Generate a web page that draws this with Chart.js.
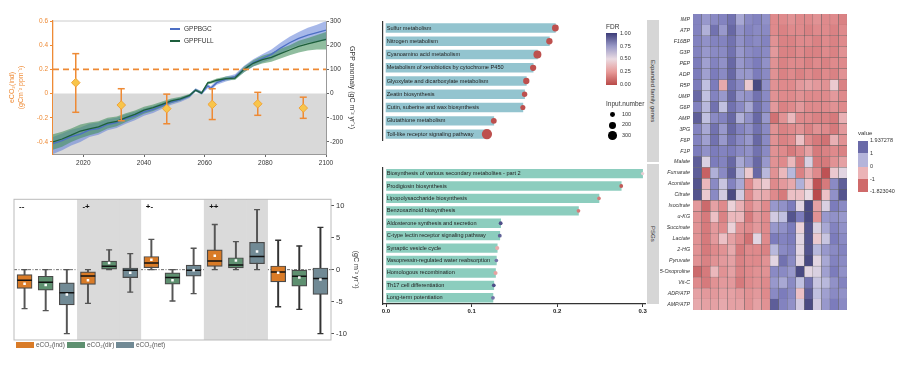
<!DOCTYPE html>
<html>
<head>
<meta charset="utf-8">
<script src="https://cdn.jsdelivr.net/npm/chart.js@4.4.1/dist/chart.umd.min.js"></script>
<style>
  body { margin:0; width:900px; height:383px; background:#fff; position:relative; overflow:hidden;
         font-family:"Liberation Sans", Arial, sans-serif; }
  canvas { position:absolute; }
  .lbl { position:absolute; white-space:nowrap; line-height:1; color:#333; transform:translateY(-50%); }
  .sw { position:absolute; }
  .strip { position:absolute; background:#d6d6d6; display:flex; align-items:center; justify-content:center; }
  .strip span { writing-mode:vertical-rl; font-size:6px; color:#333; white-space:nowrap; }
</style>
</head>
<body>
<canvas id="gppChart" width="370" height="190" style="left:0;top:0"></canvas>
<canvas id="boxChart" width="370" height="193" style="left:0;top:190px"></canvas>
<canvas id="enrichTop" width="285" height="150" style="left:370px;top:14px"></canvas>
<canvas id="enrichBottom" width="285" height="165" style="left:370px;top:160px"></canvas>
<canvas id="heatChart" width="220" height="330" style="left:640px;top:0"></canvas>

<!-- GPP legend -->
<div class="sw" style="left:170px;top:28.3px;width:10px;height:2px;background:#4d6fc4"></div>
<div class="lbl" style="left:184px;top:29.3px;font-size:6.5px">GPPBGC</div>
<div class="sw" style="left:170px;top:40.3px;width:10px;height:2px;background:#1d5e3c"></div>
<div class="lbl" style="left:184px;top:41.3px;font-size:6.5px">GPPFULL</div>

<!-- box legend -->
<div class="sw" style="left:16px;top:341.7px;width:18px;height:6.6px;background:#d97b27"></div>
<div class="lbl" style="left:36px;top:345px;font-size:6.5px;color:#555">eCO₂(ind)</div>
<div class="sw" style="left:67px;top:341.7px;width:18px;height:6.6px;background:#5e9070"></div>
<div class="lbl" style="left:87px;top:345px;font-size:6.5px;color:#555">eCO₂(dir)</div>
<div class="sw" style="left:116px;top:341.7px;width:18px;height:6.6px;background:#718a95"></div>
<div class="lbl" style="left:136px;top:345px;font-size:6.5px;color:#555">eCO₂(net)</div>

<!-- facet strips -->
<div class="strip" style="left:646.7px;top:20px;width:12.3px;height:141.7px"><span>Expanded family genes</span></div>
<div class="strip" style="left:646.7px;top:163.5px;width:12.3px;height:140.5px"><span>PSGs</span></div>

<!-- FDR legend -->
<div class="lbl" style="left:606px;top:27px;font-size:6.5px">FDR</div>
<div id="fdrBar" class="sw" style="left:606px;top:33.3px;width:11px;height:51.7px"></div>
<div class="lbl" style="left:620px;top:34px;font-size:5.5px">1.00</div>
<div class="lbl" style="left:620px;top:46.6px;font-size:5.5px">0.75</div>
<div class="lbl" style="left:620px;top:59.3px;font-size:5.5px">0.50</div>
<div class="lbl" style="left:620px;top:72px;font-size:5.5px">0.25</div>
<div class="lbl" style="left:620px;top:84.5px;font-size:5.5px">0.00</div>
<div class="lbl" style="left:606px;top:104px;font-size:6.5px">Input.number</div>
<div id="sizeLegend"></div>

<!-- heatmap legend -->
<div class="lbl" style="left:858px;top:133px;font-size:6px">value</div>
<div class="sw" style="left:858px;top:140.7px;width:10px;height:12.3px;background:#6a6aa8"></div>
<div class="sw" style="left:858px;top:153px;width:10px;height:13.5px;background:#b4b4da"></div>
<div class="sw" style="left:858px;top:166.5px;width:10px;height:12.8px;background:#ebb3b6"></div>
<div class="sw" style="left:858px;top:179.3px;width:10px;height:12.7px;background:#cf6a6a"></div>
<div class="lbl" style="left:870px;top:141px;font-size:5.5px">1.937278</div>
<div class="lbl" style="left:870px;top:153.5px;font-size:5.5px">1</div>
<div class="lbl" style="left:870px;top:167px;font-size:5.5px">0</div>
<div class="lbl" style="left:870px;top:180px;font-size:5.5px">-1</div>
<div class="lbl" style="left:870px;top:192px;font-size:5.5px">-1.823040</div>

<script>
// ---------- data: GPP anomaly panel ----------
var years = [2010,2013,2016,2019,2022,2025,2028,2031,2034,2037,2040,2043,2046,2049,2052,2055,2057,2059,2061,2062,2064,2067,2070,2073,2076,2079,2082,2085,2088,2091,2094,2097,2100];
var gppBGC = [-207,-195,-178,-168,-150,-145,-128,-120,-104,-92,-76,-65,-50,-35,-25,-10,15,2,32,22,45,60,70,100,128,145,162,188,210,228,242,252,262];
var gppBGCLow = [-250,-235,-215,-200,-180,-170,-152,-142,-125,-110,-92,-80,-63,-46,-35,-18,8,-5,22,14,36,50,60,88,112,128,142,165,185,200,210,215,218];
var gppBGCHigh = [-180,-165,-150,-140,-125,-120,-106,-100,-86,-75,-62,-52,-38,-25,-16,-3,22,9,40,30,55,70,80,115,142,162,182,210,235,255,272,285,300];
var gppFULL = [-200,-188,-172,-155,-146,-138,-122,-115,-100,-86,-69,-58,-45,-30,-22,-8,14,2,44,46,55,62,64,100,125,140,150,165,180,195,205,215,224];
var gppFULLLow = [-232,-220,-200,-185,-172,-162,-145,-135,-118,-102,-84,-72,-57,-40,-30,-14,9,-3,38,40,48,55,56,88,112,124,132,145,158,170,178,182,182];
var gppFULLHigh = [-168,-158,-145,-128,-120,-115,-100,-95,-82,-70,-55,-45,-33,-20,-13,-2,20,8,50,53,62,70,72,112,138,156,168,185,200,218,230,242,255];
var indYears = [2017.5,2032.5,2047.5,2062.5,2077.5,2092.5];
var indMean = [0.09,-0.095,-0.125,-0.09,-0.085,-0.12];
var indLow = [-0.155,-0.225,-0.25,-0.215,-0.18,-0.205];
var indHigh = [0.33,0.04,-0.005,0.04,0.01,-0.03];
var indThreshold = 0.2;
var leftTicks = [-0.4,-0.2,0,0.2,0.4,0.6];
var rightTicks = [-200,-100,0,100,200,300];
var yearTicks = [2020,2040,2060,2080,2100];

// ---------- data: box plot panel ----------
var boxGroups = ['--','-+','+-','++',''];
var shadedGroups = ['-+','++'];
var boxVars = ['ind','dir','net'];
var boxLow = [-6.1,-6.4,-10, -5.26,0,-3.5, 0,-4.9,-3.76, 0,0,0, -5.8,-6.2,-10];
var boxQ1 = [-2.94,-3.2,-5.5, -2.3,0,-1.24, 0.3,-2.27,-1.03, 0.52,0.26,0.93, -1.9,-2.58,-3.87];
var boxMedian = [-1.65,-1.96,-3.6, -1.0,0.52,-0.1, 1.03,-1.24,-0.1, 1.34,0.72,2.06, -0.36,-1.03,-1.4];
var boxQ3 = [-0.77,-1.03,-2.06, -0.36,1.34,0.26, 2.06,-0.5,0.72, 3.1,1.86,4.28, 0.57,0,0.26];
var boxHigh = [0,0,0, 0,3.1,2.5, 4.74,0,3.35, 7.06,4.38,9.4, 4.6,3.7,6.6];
var boxMean = [-2.2,-2.4,-3.9, -1.65,1.03,-0.5, 1.55,-1.65,-0.1, 2.16,1.44,2.84, -0.5,-1.24,-1.55];
var boxTicks = [-10,-5,0,5,10];

// ---------- data: enrichment panel ----------
var pathwaysA = ['Sulfur metabolism','Nitrogen metabolism','Cyanoamino acid metabolism','Metabolism of xenobiotics by cytochrome P450','Glyoxylate and dicarboxylate metabolism','Zeatin biosynthesis','Cutin, suberine and wax biosynthesis','Glutathione metabolism','Toll-like receptor signaling pathway'];
var ratioA = [0.198,0.191,0.177,0.172,0.164,0.162,0.160,0.126,0.118];
var fdrA = [0.02,0.02,0.02,0.02,0.02,0.02,0.02,0.02,0.02];
var countA = [200,175,260,170,175,125,110,150,380];
var pathwaysB = ['Biosynthesis of various secondary metabolites - part 2','Prodigiosin biosynthesis','Lipopolysaccharide biosynthesis','Benzoxazinoid biosynthesis','Aldosterone synthesis and secretion','C-type lectin receptor signaling pathway','Synaptic vesicle cycle','Vasopressin-regulated water reabsorption','Homologous recombination','Th17 cell differentiation','Long-term potentiation'];
var ratioB = [0.300,0.275,0.249,0.225,0.134,0.133,0.130,0.129,0.128,0.126,0.125];
var fdrB = [0.45,0.05,0.15,0.15,0.95,0.9,0.32,0.85,0.28,0.95,0.85];
var countB = [15,45,35,40,45,45,60,35,60,40,40];
var ratioTicks = [0,0.1,0.2,0.3];
var sizeBreaks = [100,200,300];

// ---------- data: heatmap ----------
var metabolites = ['IMP','ATP','F16BP','G3P','PEP','ADP','R5P','UMP','G6P','AMP','3PG','F6P','F1P','Malate','Fumarate','Aconitate','Citrate','Isocitrate','α-KG','Succinate','Lactate','2-HG','Pyruvate','5-Oxoproline','Vit-C','ADP/ATP','AMP/ATP'];
var heatValues = [
  [1.3,1.0,1.2,1.3,1.5,0.8,1.2,1.3,1.1,-1.0,-1.0,-0.9,-1.0,-1.0,-0.9,-1.0,-1.0,-1.1],
  [1.3,0.7,1.5,1.0,1.6,1.1,1.3,1.2,1.2,-1.0,-1.1,-1.0,-1.0,-1.1,-1.0,-1.0,-1.1,-1.0],
  [1.3,1.1,1.3,1.3,1.5,1.1,1.3,1.2,1.3,-0.9,-1.1,-1.1,-1.0,-1.0,-1.1,-1.0,-1.1,-1.0],
  [1.3,1.0,1.2,1.2,1.5,1.0,1.2,1.3,1.2,-0.8,-1.1,-1.1,-1.0,-1.1,-1.1,-1.0,-1.1,-0.9],
  [1.4,0.9,1.3,1.1,1.6,1.0,1.2,1.4,1.1,-0.9,-1.1,-1.0,-1.0,-1.1,-1.0,-1.1,-1.0,-1.0],
  [1.4,0.9,1.4,1.2,1.6,1.0,1.0,1.4,1.2,-0.9,-1.1,-1.0,-1.1,-1.0,-1.1,-1.0,-1.1,-0.9],
  [1.4,0.5,1.4,-0.6,1.5,1.2,-0.2,1.9,1.1,-0.9,-1.0,-1.0,-0.8,-0.7,-0.8,-0.9,-0.2,-1.1],
  [1.6,0.5,1.3,1.0,1.6,1.0,1.1,1.5,1.2,-0.9,-1.0,-1.0,-0.9,-1.0,-1.0,-1.0,-0.8,-1.0],
  [1.3,0.6,1.5,0.5,1.5,1.2,0.8,1.5,1.2,-0.8,-1.1,-1.0,-0.8,-1.0,-1.0,-1.0,-0.9,-1.0],
  [1.7,0.5,1.2,1.3,1.6,0.7,1.1,1.6,1.0,-1.3,-0.9,-0.4,-1.0,-1.0,-1.1,-1.1,-1.2,-0.5],
  [1.3,0.8,1.5,1.0,1.6,1.3,1.1,1.5,1.2,-0.9,-1.1,-1.0,-0.9,-1.1,-0.9,-1.0,-1.2,-0.8],
  [1.3,0.9,1.5,1.0,1.5,1.2,1.0,1.6,1.2,-0.9,-1.1,-1.0,-0.3,-1.0,-1.2,-1.3,-0.5,-0.9],
  [1.4,1.1,1.4,1.3,1.4,1.2,1.1,1.5,1.2,-0.9,-1.0,-1.2,-1.0,-0.7,-1.2,-1.1,-1.0,-1.1],
  [1.7,0.2,1.4,1.3,1.6,0.8,1.1,1.6,1.0,-0.9,-1.0,-0.4,-1.2,0.2,-1.2,-1.2,-0.9,-0.7],
  [1.7,-1.5,0.7,1.2,1.7,0.6,-0.2,1.6,0.6,-0.9,-0.4,0.6,-1.1,-0.6,-1.0,-1.7,-0.2,0.1],
  [1.8,-0.4,1.2,0.4,1.3,0.8,-1.0,-0.4,-0.2,-1.0,-0.8,-0.6,0.7,-0.3,-1.7,-1.2,1.2,1.7],
  [1.8,-0.2,1.2,0.3,1.9,0.3,-1.0,-0.5,-0.6,-1.0,-1.2,-0.3,-0.3,0.0,-1.8,-0.3,1.1,1.8],
  [-0.8,-1.4,-0.7,-1.0,-0.1,-0.5,-1.0,-0.7,-1.0,1.0,1.1,1.4,0.1,1.9,-0.7,0.2,1.4,1.2],
  [-0.9,-1.2,-0.3,-1.1,-0.4,-0.4,-1.2,-0.8,-1.0,0.3,0.5,1.8,1.4,1.9,-0.9,1.0,1.1,1.0],
  [-0.9,-1.2,-0.8,-1.0,-0.1,-0.9,-1.0,-0.8,-1.0,1.0,1.1,1.4,-0.1,1.8,0.2,0.8,1.3,1.1],
  [-0.9,-1.2,-0.8,-0.3,-0.7,-1.0,-1.3,0.1,-1.0,1.4,1.3,1.4,0.1,1.8,-0.2,0.4,1.4,1.2],
  [-0.9,-1.2,-1.0,-0.9,-0.6,-1.2,-1.0,-1.0,-1.1,0.6,1.2,1.3,0.1,1.8,0.6,1.0,1.2,1.3],
  [-0.9,-1.1,-0.9,-0.8,-0.7,-1.1,-1.0,-1.0,-0.9,0.1,1.5,1.2,0.1,1.9,0.1,0.8,1.3,1.2],
  [-1.4,-1.2,-0.4,-0.9,-0.7,-1.1,-1.0,-0.9,-0.9,1.2,1.2,1.0,1.9,0.1,0.2,0.9,1.4,1.1],
  [-1.0,-1.2,-0.9,-0.8,-0.8,-1.2,-1.0,-0.9,-1.0,1.0,0.8,1.2,0.5,1.5,0.4,0.6,1.1,1.3],
  [-0.7,-0.8,-0.8,-0.7,-0.7,-0.8,-0.9,-0.8,-1.0,1.2,1.4,1.2,-0.3,1.7,0.5,0.9,1.2,1.1],
  [-0.6,-0.7,-0.7,-0.6,-0.7,-0.7,-0.9,-0.7,-0.9,1.7,1.3,1.1,0.3,1.9,0.3,1.0,1.4,1.2]
];

// ---------- helpers ----------
var ORANGE = '#ee8a35';
var FONT = '"Liberation Sans", Arial, sans-serif';
Chart.defaults.font.family = FONT;
Chart.defaults.color = '#333';

function hexToRgb(h) {
  return [parseInt(h.substr(1,2),16), parseInt(h.substr(3,2),16), parseInt(h.substr(5,2),16)];
}
function rampColor(stops, v) {
  if (v <= stops[0][0]) return stops[0][1];
  for (var i = 1; i < stops.length; i++) {
    if (v <= stops[i][0]) {
      var t = (v - stops[i-1][0]) / (stops[i][0] - stops[i-1][0]);
      var a = hexToRgb(stops[i-1][1]), b = hexToRgb(stops[i][1]);
      return 'rgb(' + [0,1,2].map(function (k) { return Math.round(a[k] + (b[k]-a[k])*t); }).join(',') + ')';
    }
  }
  return stops[stops.length-1][1];
}
var fdrStops = [[0,'#b94a48'],[0.25,'#e79a98'],[0.5,'#eadbe2'],[0.75,'#9898c6'],[1,'#3c3c78']];
var heatStops = [[-1.823,'#b8484a'],[-1,'#df8a8c'],[-0.35,'#ecbcc0'],[0,'#eadae2'],[0.5,'#c0c0e0'],[1.0,'#9898cc'],[1.4,'#7c7cbc'],[1.937,'#46467e']];
function fdrColor(v) { return rampColor(fdrStops, v); }
function heatColor(v) { return rampColor(heatStops, v); }
function dotRadius(n) { return 1.5 + n * 0.0095; }
function pts(xs, ys) { return xs.map(function (x, i) { return {x: x, y: ys[i]}; }); }
function fixTicks(list) { return function (s) { s.ticks = list.map(function (v) { return {value: v}; }); }; }

// FDR gradient + size legend
document.getElementById('fdrBar').style.background =
  'linear-gradient(to top,' + fdrStops.map(function (s) { return s[1] + ' ' + (s[0]*100) + '%'; }).join(',') + ')';
var sizeY = [114.8, 125.2, 135.8];
var sl = document.getElementById('sizeLegend');
sizeBreaks.forEach(function (n, i) {
  var r = dotRadius(n);
  var d = document.createElement('div');
  d.className = 'sw';
  d.style.cssText = 'left:' + (612.7 - r) + 'px;top:' + (sizeY[i] - r) + 'px;width:' + 2*r + 'px;height:' + 2*r + 'px;border-radius:50%;background:#000';
  sl.appendChild(d);
  var t = document.createElement('div');
  t.className = 'lbl';
  t.style.cssText = 'left:622px;top:' + sizeY[i] + 'px;font-size:5.5px';
  t.textContent = n;
  sl.appendChild(t);
});

// ---------- panel a: GPP anomaly ----------
var errData = [];
indYears.forEach(function (x, i) {
  errData.push({x: x, y: indLow[i]}, {x: x, y: indHigh[i]}, {x: x, y: null});
});
var topLine = {
  id: 'topLine',
  afterDraw: function (chart) {
    var a = chart.chartArea, ctx = chart.ctx;
    ctx.save();
    ctx.strokeStyle = '#cccccc';
    ctx.lineWidth = 1;
    ctx.beginPath(); ctx.moveTo(a.left, a.top); ctx.lineTo(a.right, a.top); ctx.stroke();
    ctx.restore();
  }
};
new Chart(document.getElementById('gppChart'), {
  type: 'line',
  data: { datasets: [
    { data: pts(indYears, indMean), yAxisID: 'y', showLine: false, pointStyle: 'rectRot', pointRadius: 4.3,
      pointBackgroundColor: '#f8c54a', pointBorderColor: '#f0a33a', pointBorderWidth: 1, order: 0 },
    { data: errData, yAxisID: 'y', borderColor: ORANGE, borderWidth: 1.5, pointStyle: 'line', pointRadius: 3.5,
      pointBorderColor: ORANGE, pointBorderWidth: 1.5, spanGaps: false, order: 1 },
    { data: [{x: 2010, y: indThreshold}, {x: 2100, y: indThreshold}], yAxisID: 'y', borderColor: ORANGE,
      borderWidth: 1.8, borderDash: [6, 4], pointRadius: 0, order: 2 },
    { data: pts(years, gppFULL), yAxisID: 'y2', borderColor: '#1d5e3c', borderWidth: 1.3, pointRadius: 0, order: 3 },
    { data: pts(years, gppBGC), yAxisID: 'y2', borderColor: '#4d6fc4', borderWidth: 1.3, pointRadius: 0, order: 4 },
    { data: pts(years, gppFULLHigh), yAxisID: 'y2', borderWidth: 0, pointRadius: 0, fill: '+1',
      backgroundColor: 'rgba(70,145,95,0.6)', order: 5 },
    { data: pts(years, gppFULLLow), yAxisID: 'y2', borderWidth: 0, pointRadius: 0, order: 6 },
    { data: pts(years, gppBGCHigh), yAxisID: 'y2', borderWidth: 0, pointRadius: 0, fill: '+1',
      backgroundColor: 'rgba(95,125,215,0.55)', order: 7 },
    { data: pts(years, gppBGCLow), yAxisID: 'y2', borderWidth: 0, pointRadius: 0, order: 8 },
    { data: [{x: 2010, y: 0}, {x: 2100, y: 0}], yAxisID: 'y', borderWidth: 0, pointRadius: 0, fill: 'start',
      backgroundColor: '#d9d9d9', order: 9 }
  ]},
  options: {
    responsive: false, animation: false, devicePixelRatio: 1,
    layout: { padding: { top: 21, left: 0, right: 0, bottom: 0 } },
    plugins: { legend: { display: false }, tooltip: { enabled: false } },
    scales: {
      x: { type: 'linear', min: 2010, max: 2100, afterBuildTicks: fixTicks(yearTicks),
           afterFit: function (s) { s.height = 36; },
           grid: { drawOnChartArea: false, tickLength: 3, color: '#666' }, border: { color: '#999' },
           ticks: { color: '#333', font: { size: 6.5 }, padding: 2, callback: function (v) { return String(v); } } },
      y: { position: 'left', min: -0.5, max: 0.6, afterBuildTicks: fixTicks(leftTicks),
           afterFit: function (s) { s.width = 53; },
           grid: { drawOnChartArea: false, tickLength: 3, color: ORANGE }, border: { color: ORANGE, width: 1.3 },
           ticks: { color: ORANGE, font: { size: 6.5 }, padding: 2,
                    callback: function (v) { return v === 0 ? '0' : v.toFixed(1); } },
           title: { display: true, text: ['eCO₂(ind)', '(gCm⁻² ppm⁻¹)'], color: ORANGE, font: { size: 7 },
                    padding: { top: 8, bottom: 0 } } },
      y2: { position: 'right', min: -250, max: 300, afterBuildTicks: fixTicks(rightTicks),
            afterFit: function (s) { s.width = 44; },
            grid: { drawOnChartArea: false, tickLength: 3, color: '#666' }, border: { color: '#999' },
            ticks: { color: '#333', font: { size: 6.5 }, padding: 1 },
            title: { display: true, text: 'GPP anomaly (gC m⁻² yr⁻¹)', color: '#333', font: { size: 7 },
                     padding: { top: 14, bottom: 0 } } }
    }
  },
  plugins: [topLine]
});

// ---------- panel b: box plots ----------
var boxLabels = [], boxFill = [], boxLine = [], shadeData = [];
var varColors = { ind: '#d97b27', dir: '#5e9070', net: '#718a95' };
boxGroups.forEach(function (g, gi) {
  boxVars.forEach(function (v) {
    boxLabels.push(gi + ':' + v);
    boxFill.push(varColors[v]);
    boxLine.push(gi === 4 ? '#333' : '#555');
    shadeData.push(shadedGroups.indexOf(g) >= 0 ? [-11, 11] : null);
  });
});
var boxDecor = {
  id: 'boxDecor',
  beforeDatasetsDraw: function (chart) {
    var a = chart.chartArea, ctx = chart.ctx, ys = chart.scales.y;
    var y0 = ys.getPixelForValue(0);
    ctx.save();
    ctx.strokeStyle = '#444'; ctx.lineWidth = 0.8; ctx.setLineDash([3, 1.5, 1, 1.5]);
    ctx.beginPath(); ctx.moveTo(a.left, y0); ctx.lineTo(a.right, y0); ctx.stroke();
    ctx.restore();
  },
  afterDraw: function (chart) {
    var a = chart.chartArea, ctx = chart.ctx, xs = chart.scales.x;
    var w = (a.right - a.left) / boxLabels.length;
    ctx.save();
    ctx.strokeStyle = '#bbbbbb'; ctx.lineWidth = 1;
    ctx.strokeRect(a.left, a.top, a.right - a.left, a.bottom - a.top);
    ctx.fillStyle = '#111'; ctx.font = 'bold 8px ' + FONT; ctx.textBaseline = 'middle';
    boxGroups.forEach(function (g, gi) {
      var x = xs.getPixelForValue(gi * boxVars.length) - w / 2;
      ctx.fillText(g, x + 5, a.top + 7);
    });
    ctx.restore();
  }
};
var markerBase = { type: 'line', showLine: false, borderWidth: 0 };
new Chart(document.getElementById('boxChart'), {
  type: 'bar',
  data: { labels: boxLabels, datasets: [
    Object.assign({}, markerBase, { data: boxMean, pointStyle: 'rect', pointRadius: 1.8,
      pointBackgroundColor: '#ffffff', pointBorderWidth: 0, order: 0 }),
    Object.assign({}, markerBase, { data: boxMedian, pointStyle: 'line', pointRadius: 7.3,
      pointBorderColor: '#111', pointBorderWidth: 1.5, order: 1 }),
    { type: 'bar', data: boxQ1.map(function (q, i) { return [q, boxQ3[i]]; }), backgroundColor: boxFill,
      borderColor: '#4a4a4a', borderWidth: 1.2, borderSkipped: false, barThickness: 15, grouped: false, order: 2 },
    Object.assign({}, markerBase, { data: boxHigh, pointStyle: 'line', pointRadius: 3,
      pointBorderColor: boxLine, pointBorderWidth: 1.3, order: 3 }),
    Object.assign({}, markerBase, { data: boxLow, pointStyle: 'line', pointRadius: 3,
      pointBorderColor: boxLine, pointBorderWidth: 1.3, order: 4 }),
    { type: 'bar', data: boxLow.map(function (l, i) { return [l, boxHigh[i]]; }), backgroundColor: boxLine,
      barThickness: 1.3, grouped: false, order: 5 },
    { type: 'bar', data: shadeData, backgroundColor: '#dadada', barPercentage: 1, categoryPercentage: 1,
      grouped: false, order: 6 }
  ]},
  options: {
    responsive: false, animation: false, devicePixelRatio: 1,
    layout: { padding: { top: 9.3, left: 14, right: 0, bottom: 43 } },
    plugins: { legend: { display: false }, tooltip: { enabled: false } },
    scales: {
      x: { display: false },
      y: { position: 'right', min: -11, max: 11, afterBuildTicks: fixTicks(boxTicks),
           afterFit: function (s) { s.width = 39; },
           grid: { drawOnChartArea: false, tickLength: 3, color: '#555' }, border: { display: false },
           ticks: { color: '#333', font: { size: 7.5 }, padding: 2 },
           title: { display: true, text: '(gC m⁻² yr⁻¹)', color: '#333', font: { size: 7 },
                    padding: { top: 10, bottom: 0 } } }
    }
  },
  plugins: [boxDecor]
});

// ---------- panel c: enrichment ----------
function enrichChart(id, labels, ratio, fdr, count, barColor, pad, showX) {
  return new Chart(document.getElementById(id), {
    type: 'bar',
    data: { labels: labels, datasets: [
      { type: 'scatter', data: labels.map(function (l, i) { return {x: ratio[i], y: l}; }),
        pointRadius: count.map(dotRadius), pointBackgroundColor: fdr.map(fdrColor), pointBorderWidth: 0, order: 0 },
      { type: 'bar', indexAxis: 'y', data: ratio, backgroundColor: barColor, barThickness: 8.7, order: 1 }
    ]},
    options: {
      indexAxis: 'y', responsive: false, animation: false, devicePixelRatio: 1,
      layout: { padding: pad },
      plugins: { legend: { display: false }, tooltip: { enabled: false } },
      scales: {
        x: { type: 'linear', min: -0.0039, max: 0.3028, display: showX, afterBuildTicks: fixTicks(ratioTicks),
             afterFit: function (s) { s.height = 21; },
             grid: { drawOnChartArea: false, tickLength: 3, color: '#333' }, border: { color: '#333', width: 1.2 },
             ticks: { color: '#222', font: { size: 6, weight: 'bold' }, padding: 1,
                      callback: function (v) { return v.toFixed(1); } } },
        y: { type: 'category', position: 'left', afterFit: function (s) { s.width = 0; },
             grid: { display: false, drawTicks: false }, border: { color: '#333', width: 1.2 },
             ticks: { mirror: true, z: 1, padding: 4, color: '#222', font: { size: 5.6 } } }
      }
    }
  });
}
enrichChart('enrichTop', pathwaysA, ratioA, fdrA, countA, '#93c4cf',
  { top: 6, left: 12.7, right: 10, bottom: 2.3 }, false);
enrichChart('enrichBottom', pathwaysB, ratioB, fdrB, countB, '#8ccdbe',
  { top: 3.5, left: 12.7, right: 10, bottom: 0 }, true);

// ---------- panel d: heatmap ----------
var heatDatasets = heatValues[0].map(function (_, c) {
  return {
    data: metabolites.map(function () { return 1; }),
    backgroundColor: metabolites.map(function (_, r) { return heatColor(heatValues[r][c]); }),
    borderColor: '#5e5e5e', borderWidth: 0.4, borderSkipped: false,
    barPercentage: 1, categoryPercentage: 1
  };
});
new Chart(document.getElementById('heatChart'), {
  type: 'bar',
  data: { labels: metabolites, datasets: heatDatasets },
  options: {
    indexAxis: 'y', responsive: false, animation: false, devicePixelRatio: 1,
    layout: { padding: { top: 14, left: 0, right: 13, bottom: 20 } },
    plugins: { legend: { display: false }, tooltip: { enabled: false } },
    scales: {
      x: { type: 'linear', min: 0, max: heatValues[0].length, stacked: true, display: false },
      y: { stacked: true, afterFit: function (s) { s.width = 53; },
           grid: { display: false, drawTicks: false }, border: { display: false },
           ticks: { padding: 3, color: '#333', font: { size: 5.3, style: 'italic' } } }
    }
  }
});
</script>
</body>
</html>
